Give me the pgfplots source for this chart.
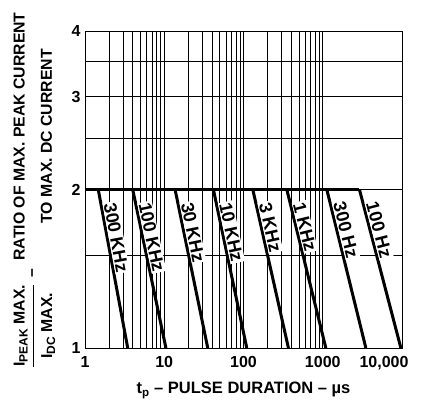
\documentclass[border=0pt]{standalone}
\usepackage{fontspec}
\setmainfont{Liberation Sans}
\usepackage{pgfplots}
\pgfplotsset{compat=1.18}
\newcommand{\tenk}{10,000}
\begin{document}
\begin{tikzpicture}[font=\bfseries\fontsize{15.5}{17}\selectfont]
\useasboundingbox (-85pt,-62pt) rectangle (342pt,348pt);
\begin{axis}[
  at={(0,0)}, anchor=south west,
  scale only axis, width=317pt, height=317pt,
  xmode=log, ymode=log,
  xmin=1, xmax=10000, ymin=1, ymax=4,
  xtick={1,10,100,1000}, xticklabels={1,10,100,1000},
  extra x ticks={10000}, extra x tick labels={\tenk},
  extra x tick style={grid=major, xticklabel style={anchor=north east, xshift=10pt}},
  ytick={1,2,3,4}, yticklabels={1,2,3,4},
  extra y ticks={1.5,2.5,3.5}, extra y tick labels={},
  extra y tick style={grid=major},
  xmajorgrids=true, xminorgrids=true, ymajorgrids=true, yminorgrids=false,
  major grid style={black, line width=0.6pt},
  minor grid style={black, line width=0.6pt},
  major tick length=0pt, minor tick length=0pt,
  axis line style={line width=0.8pt},
  /pgf/number format/assume math mode=true,
  ticklabel style={font=\bfseries\fontsize{16}{18}\selectfont},
  xticklabel style={yshift=-5pt},
  yticklabel style={xshift=-1pt},
  xlabel={t\textsubscript{p} – PULSE DURATION – µs},
  xlabel style={font=\bfseries\fontsize{16.5}{18}\selectfont, yshift=-5pt},
  ylabel={\renewcommand{\arraystretch}{1.6}\begin{tabular}{@{}c@{}}I{\fontsize{12}{14}\selectfont\raisebox{-0.25em}{PEAK}} MAX.\\\hline I{\fontsize{12}{14}\selectfont\raisebox{-0.25em}{DC}} MAX.\end{tabular}\enspace–\enspace\begin{tabular}{@{}c@{}}RATIO OF MAX. PEAK CURRENT\\TO MAX. DC CURRENT\end{tabular}},
  ylabel style={at={(axis description cs:-0.262,0.5)}, anchor=north, rotate=0, font=\bfseries\fontsize{15.8}{17}\selectfont},
]
\addplot[line width=3pt, line join=miter] coordinates {(1,2) (2904,2)};
\addplot[line width=3pt] coordinates {(1.47,2) (3.46,1)} node[pos=0.08, sloped, anchor=south west, fill=white, inner sep=1pt, font=\bfseries\fontsize{18}{20}\selectfont] {300 KHz};
\addplot[line width=3pt] coordinates {(4.0,2) (10.5,1)} node[pos=0.08, sloped, anchor=south west, fill=white, inner sep=1pt, font=\bfseries\fontsize{18}{20}\selectfont] {100 KHz};
\addplot[line width=3pt] coordinates {(13.7,2) (35.4,1)} node[pos=0.08, sloped, anchor=south west, fill=white, inner sep=1pt, font=\bfseries\fontsize{18}{20}\selectfont] {30 KHz};
\addplot[line width=3pt] coordinates {(41.7,2) (110,1)} node[pos=0.08, sloped, anchor=south west, fill=white, inner sep=1pt, font=\bfseries\fontsize{18}{20}\selectfont] {10 KHz};
\addplot[line width=3pt] coordinates {(131,2) (369,1)} node[pos=0.08, sloped, anchor=south west, fill=white, inner sep=1pt, font=\bfseries\fontsize{18}{20}\selectfont] {3 KHz};
\addplot[line width=3pt] coordinates {(352,2) (1094,1)} node[pos=0.08, sloped, anchor=south west, fill=white, inner sep=1pt, font=\bfseries\fontsize{18}{20}\selectfont] {1 KHz};
\addplot[line width=3pt] coordinates {(1125,2) (3500,1)} node[pos=0.08, sloped, anchor=south west, fill=white, inner sep=1pt, font=\bfseries\fontsize{18}{20}\selectfont] {300 Hz};
\addplot[line width=3pt] coordinates {(2904,2) (9680,1)} node[pos=0.08, sloped, anchor=south west, fill=white, inner sep=1pt, font=\bfseries\fontsize{18}{20}\selectfont] {100 Hz};
\end{axis}
\end{tikzpicture}
\end{document}
